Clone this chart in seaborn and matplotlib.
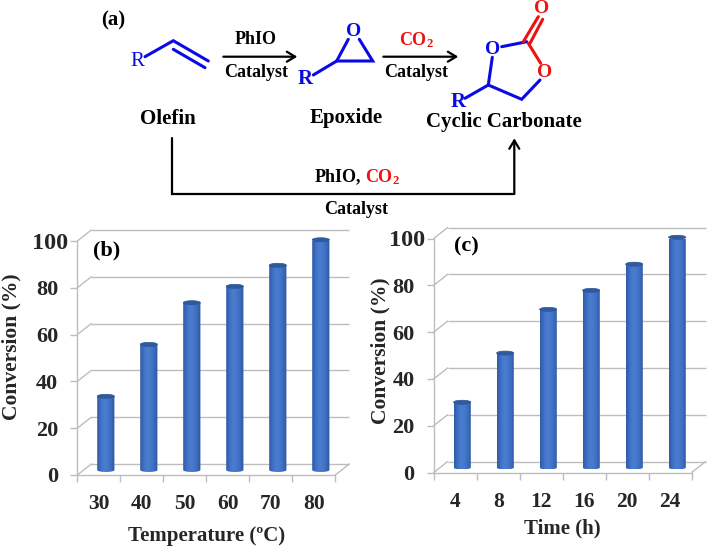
import numpy as np
import seaborn as sns
import matplotlib.pyplot as plt
from matplotlib.colors import LinearSegmentedColormap
from matplotlib.patches import Ellipse, PathPatch
from matplotlib.path import Path
from matplotlib.transforms import ScaledTranslation

temp_labels = ["30", "40", "50", "60", "70", "80"]
temp_conversion = [31.5, 53.7, 71.5, 78.5, 87.5, 98.4]
time_labels = ["4", "8", "12", "16", "20", "24"]
time_conversion = [27.9, 48.9, 67.6, 75.7, 86.9, 98.4]
y_ticks = [0, 20, 40, 60, 80, 100]

GRAY = "#bdbdbd"
BLUE = "#0a0ae6"
RED = "#f01010"
W, H = 709, 548

sns.set_theme(style="white")
plt.rcParams["font.family"] = ["Liberation Serif", "DejaVu Serif"]
plt.rcParams["font.weight"] = "bold"
plt.rcParams["axes.labelweight"] = "bold"
plt.rcParams["mathtext.fontset"] = "custom"
plt.rcParams["mathtext.bf"] = "Liberation Serif:bold"
plt.rcParams["mathtext.rm"] = "Liberation Serif:bold"

cyl = LinearSegmentedColormap.from_list(
    "cyl", ["#2f5aa5", "#3f6fc4", "#4a7dd0", "#4577ca", "#3c6bbd", "#2c569c"])

fig = plt.figure(figsize=(W / 100, H / 100), dpi=100)


def bar_panel(left, top, labels, values, xlabel, xpad, ylabel_x, ylabel_y):
    # ax = front plane of the fake 3d box, px coords given from top left
    ax = fig.add_axes([left / W, 1 - (top + 234) / H, 258 / W, 234 / H])
    ax.patch.set_alpha(0)
    sns.barplot(x=labels, y=values, color="#3f6fc4", width=0.40, saturation=1, ax=ax)

    bar_shift = ScaledTranslation(7 / 100, 5 / 100, fig.dpi_scale_trans)
    wall_shift = ScaledTranslation(14 / 100, 11 / 100, fig.dpi_scale_trans)

    # back wall and side lines
    ax.hlines(y_ticks, -0.5, 5.5, color=GRAY, lw=1, clip_on=False,
              transform=ax.transData + wall_shift, zorder=1)
    for v in y_ticks:
        ax.annotate("", xy=(-0.5, v), xytext=(14 * 0.72, 11 * 0.72),
                    textcoords="offset points",
                    arrowprops=dict(arrowstyle="-", color=GRAY, lw=1, shrinkA=0, shrinkB=0))
    ax.annotate("", xy=(5.5, 0), xytext=(14 * 0.72, 11 * 0.72), textcoords="offset points",
                arrowprops=dict(arrowstyle="-", color=GRAY, lw=1, shrinkA=0, shrinkB=0))

    # cylinders on top of the seaborn bars
    ry = 0.85
    grad = np.linspace(0, 1, 64).reshape(1, -1)
    for bar in list(ax.patches):
        x0, w, h = bar.get_x(), bar.get_width(), bar.get_height()
        cx = x0 + w / 2
        t = np.linspace(np.pi, 2 * np.pi, 30)
        xs = np.r_[cx + w / 2 * np.cos(t), x0 + w, x0, x0]
        ys = np.r_[ry * np.sin(t), h, h, 0]
        body = PathPatch(Path(np.c_[xs, ys]), fc="none", ec="none",
                         transform=ax.transData + bar_shift)
        ax.add_patch(body)
        im = ax.imshow(grad, cmap=cyl, aspect="auto", extent=(x0, x0 + w, -ry, h),
                       transform=ax.transData + bar_shift, zorder=3)
        im.set_clip_path(body)
        im.set_clip_on(True)
        ax.add_patch(Ellipse((cx, h), w, 2 * ry, fc="#2f5a9e", ec="#2c5595", lw=0.5,
                             transform=ax.transData + bar_shift, zorder=4, clip_on=False))
        bar.set_visible(False)

    ax.set_xlim(-0.5, 5.5)
    ax.set_ylim(0, 100)
    ax.set_yticks(y_ticks)
    ax.set_xticks(np.arange(-0.5, 6), minor=True)
    ax.tick_params(axis="x", which="major", length=0, pad=14, labelsize=15.5)
    ax.tick_params(axis="x", which="minor", length=5, width=1, color=GRAY, bottom=True)
    ax.tick_params(axis="y", length=5, width=1, color=GRAY, pad=8.7, labelsize=16, left=True)
    # the "100" sits further right and reads wider than the other labels
    top_label = ax.get_yticklabels()[-1]
    top_label.set_fontsize(17.5)
    top_label.set_transform(top_label.get_transform()
                            + ScaledTranslation(10 / 100, 0, fig.dpi_scale_trans))
    sns.despine(ax=ax)
    for s in ("left", "bottom"):
        ax.spines[s].set_color(GRAY)
        ax.spines[s].set_linewidth(1)
    ax.set_xlabel(xlabel, fontsize=15, labelpad=xpad)
    ax.set_ylabel("Conversion (%)", fontsize=15.5)
    ax.yaxis.set_label_coords((ylabel_x - left) / 258, ylabel_y)
    return ax


bar_panel(77.3, 241, temp_labels, temp_conversion, "Temperature (ºC)", 8.5, 21, 0.547)
bar_panel(433.7, 238.5, time_labels, time_conversion, "Time (h)", 4.5, 390, 0.522)

# overlay in pixel coords for the reaction scheme and panel letters
ov = fig.add_axes([0, 0, 1, 1], zorder=5)
ov.set_xlim(0, W)
ov.set_ylim(H, 0)
ov.axis("off")


def label(x, y, s, size=13, color="black", ha="center"):
    ov.text(x, y, s, fontsize=size, color=color, ha=ha, va="center")


def bond(xs, ys, color=BLUE):
    ov.plot(xs, ys, color=color, lw=2.2, solid_capstyle="round", solid_joinstyle="miter")


def arrow(x0, y0, x1, y1):
    ov.annotate("", xy=(x1, y1), xytext=(x0, y0),
                arrowprops=dict(arrowstyle="->,head_length=0.5,head_width=0.3", color="black",
                                lw=1.6, shrinkA=0, shrinkB=0))


label(112.7, 20.5, "(a)", 15)
label(106.7, 250, "(b)", 16)
label(466, 246.7, "(c)", 16)

# olefin
ov.text(137.3, 61, "R", fontsize=15, color=BLUE, ha="center", va="center", fontweight="normal")
bond([145, 173.3, 208.3], [56.7, 40.7, 61])
bond([173.3, 205], [49.3, 67.7])
label(168.3, 119, "Olefin", 15)

# epoxide
label(305, 79.3, "R", 15, BLUE)
label(353.3, 31.5, "O", 14, BLUE)
bond([313.3, 336.7, 372.7, 359.3], [75, 61, 61, 39.3])
bond([336.7, 348.3], [61, 39.3])
label(345.7, 118.3, "Epoxide", 15)

# cyclic carbonate
label(492.3, 49.3, "O", 14, BLUE)
label(541.7, 8.8, "O", 14, RED)
label(545, 72.7, "O", 14, RED)
label(457.7, 102.3, "R", 15, BLUE)
bond([501.7, 526.7], [46.7, 41.7])
bond([492.3, 488.3, 521.7, 540], [57.3, 85, 99.3, 80])
bond([465, 488.3], [98.3, 85])
bond([523.3, 538.3], [41.7, 16.7], RED)
bond([530, 542.7], [43.3, 19.3], RED)
bond([528.3, 540.7], [43.3, 63.3], RED)
label(504.3, 122.3, "Cyclic Carbonate", 15)

# arrows
arrow(223.3, 56.7, 297.3, 56.7)
label(256, 39.3, "PhIO")
label(255.7, 72.3, "Catalyst")
arrow(383.3, 56.7, 458.3, 56.7)
label(416, 40.5, r"$\mathbf{CO_2}$", 13, RED)
label(416, 72.7, "Catalyst")
ov.plot([171.7, 171.7, 514.3], [138.3, 194, 194], color="black", lw=1.6, solid_joinstyle="miter")
arrow(514.3, 194, 514.3, 138.3)
label(314.3, 176.7, "PhIO,", 13, ha="left")
label(365, 177.5, r"$\mathbf{CO_2}$", 13, RED, ha="left")
label(356, 210, "Catalyst")

fig.savefig("out.png", dpi=100)
